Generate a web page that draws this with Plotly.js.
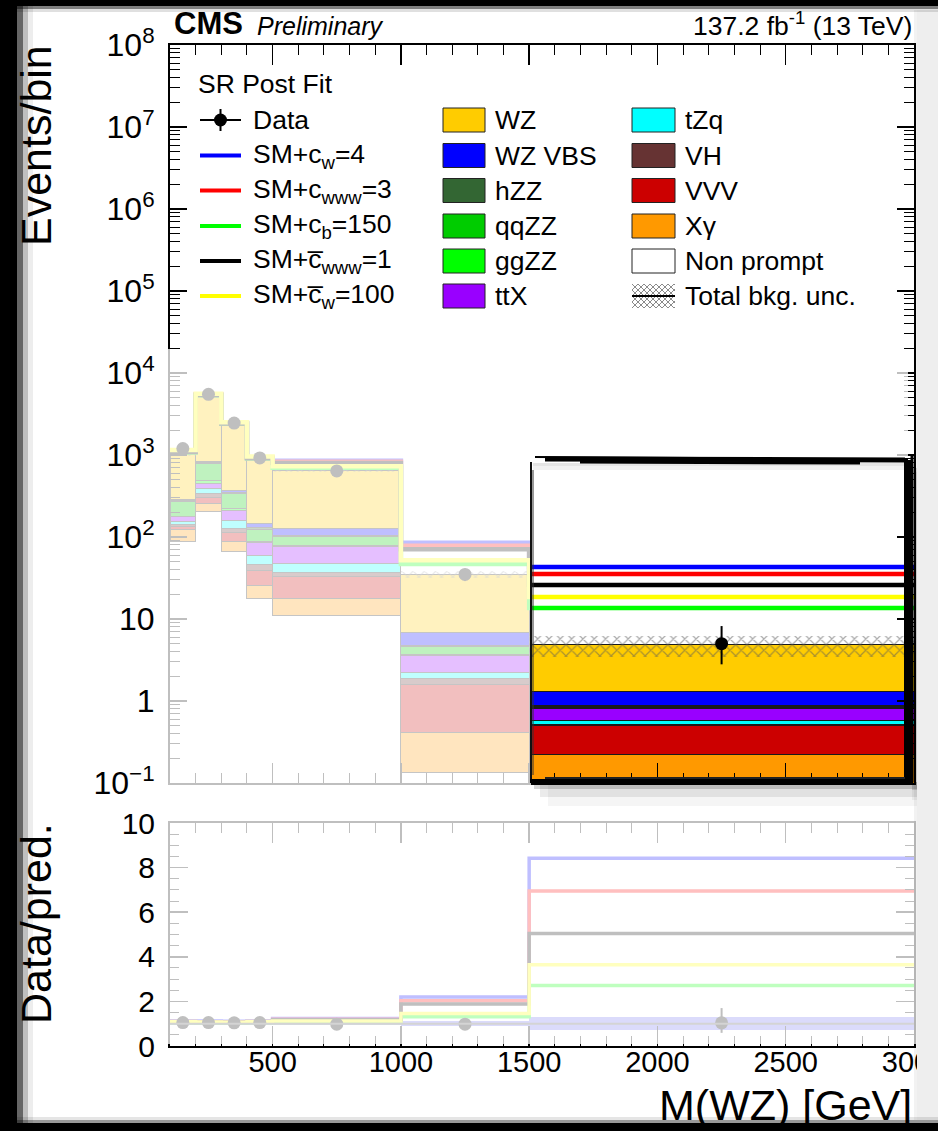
<!DOCTYPE html>
<html><head><meta charset="utf-8">
<script src="https://cdn.plot.ly/plotly-3.0.1.min.js"></script>
<style>html,body{margin:0;padding:0;background:#fff}#chart{width:938px;height:1131px}</style>
</head><body><div id="chart"></div>
<script>
// ---------------- data ----------------
const binEdges   = [100, 200, 300, 400, 500, 1000, 1500, 3000];
const binCenters = [150, 250, 350, 450, 750, 1250, 2250];
const binWidths  = [100, 100, 100, 100, 500, 500, 1500];

// stacked backgrounds (bottom -> top)
const nonPrompt = [88, 204, 67, 18, 10.9, 0.134, 0];
const xGamma    = [34, 53, 20, 7.5, 6.8, 0.28, 0.224];
const vvv       = [12, 43, 25, 13.5, 15.7, 1.19, 0.28];
const vh        = [9, 35, 16, 7, 3.1, 0.29, 0.01];
const tzq       = [13, 58, 32, 14, 11, 0.32, 0.06];
const ttx       = [20, 58, 48, 26, 28.3, 1.33, 0.235];
const ggzz      = [4, 31, 17, 3, 3, 0.1, 0.02];
const qqzz      = [90, 301, 110, 35, 22, 1.0, 0.04];
const hzz       = [5, 17, 10, 5, 3, 0.05, 0.005];
const wzvbs     = [12, 26, 29, 18, 23, 2.1, 0.43];
const wz        = [743, 4374, 1976, 733, 523, 28.3, 3.52];
const bkgUnc    = [60, 200, 100, 40, 30, 3.5, 1.4];

// data
const dataY       = [1200, 5500, 2450, 920, 640, 35, 5];
const dataErrUp   = [35, 74, 50, 30, 25, 6, 3.2];
const dataErrDown = [35, 74, 50, 30, 25, 6, 2.2];

// EFT signals (SM + operator)
const sigCw4     = [1100, 5500, 2450, 935, 850, 85, 43];
const sigCwww3   = [1090, 5450, 2430, 925, 830, 78, 35.4];
const sigCb150   = [1075, 5350, 2400, 905, 700, 47, 13.6];
const sigCbwww1  = [1085, 5400, 2420, 915, 800, 71, 26];
const sigCbw100  = [1150, 5600, 2500, 960, 730, 52, 18.5];

// ratio panel
const ratioCw4    = [1.13, 1.12, 1.11, 1.13, 1.23, 2.2, 8.42];
const ratioCwww3  = [1.1, 1.09, 1.08, 1.1, 1.2, 2.03, 6.95];
const ratioCb150  = [1.04, 1.03, 1.03, 1.04, 1.05, 1.31, 2.71];
const ratioCbwww1 = [1.08, 1.07, 1.06, 1.08, 1.18, 1.88, 5.04];
const ratioCbw100 = [1.1, 1.08, 1.07, 1.1, 1.12, 1.46, 3.64];
const ratioData        = [1.05, 1.05, 1.04, 1.05, 0.98, 0.98, 1.04];
const ratioDataErrUp   = [0.04, 0.02, 0.03, 0.04, 0.05, 0.18, 0.66];
const ratioDataErrDown = [0.04, 0.02, 0.03, 0.04, 0.05, 0.18, 0.45];
const ratioUnc         = [0.06, 0.04, 0.04, 0.05, 0.05, 0.1, 0.29];

// labels
const stackNames = ['Non prompt', 'X\u03b3', 'VVV', 'VH', 'tZq', 'ttX', 'ggZZ', 'qqZZ', 'hZZ', 'WZ VBS', 'WZ'];
const sigNames = ['SM+c<sub>w</sub>=4', 'SM+c<sub>www</sub>=3', 'SM+c<sub>b</sub>=150', 'SM+c\u0305<sub>www</sub>=1', 'SM+c\u0305<sub>w</sub>=100'];
const legendCol2 = ['WZ', 'WZ VBS', 'hZZ', 'qqZZ', 'ggZZ', 'ttX'];
const legendCol3 = ['tZq', 'VH', 'VVV', 'X\u03b3', 'Non prompt', 'Total bkg. unc.'];
const mainTickVals = [0.1, 1, 10, 100, 1e3, 1e4, 1e5, 1e6, 1e7, 1e8];
const mainTickText = ['10<sup>\u22121</sup>', '1', '10', '10<sup>2</sup>', '10<sup>3</sup>', '10<sup>4</sup>', '10<sup>5</sup>', '10<sup>6</sup>', '10<sup>7</sup>', '10<sup>8</sup>'];

// ---------------- styles ----------------
const FONT = 'Liberation Sans, Arial, Helvetica, sans-serif';
const stackColors = {'Non prompt':'#ffffff','X\u03b3':'#ff9900','VVV':'#cc0000','VH':'#663333','tZq':'#00ffff','ttX':'#9900ff','ggZZ':'#00ff00','qqZZ':'#00cc00','hZZ':'#336633','WZ VBS':'#0000ff','WZ':'#ffcc00'};
const sigColors = ['#0000ff', '#ff0000', '#00ff00', '#000000', '#ffff00'];

const W = 938, H = 1131, L = 170, R = 914, T = 45, B = 1046;
const px = x => (x - L) / (R - L);
const py = y => (B - y) / (B - T);

// ---------------- traces ----------------
const stackValues = [nonPrompt, xGamma, vvv, vh, tzq, ttx, ggzz, qqzz, hzz, wzvbs, wz];
const traces = [];
stackValues.forEach((vals, i) => {
  const isNP = i === 0;
  traces.push({type:'bar', x:binCenters, y:vals, width:binWidths, xaxis:'x', yaxis:'y',
    marker:{color:stackColors[stackNames[i]], line:{color:isNP ? 'rgba(0,0,0,0)' : '#1a1a1a', width:isNP ? 0 : 1}},
    hoverinfo:'skip', showlegend:false, name:stackNames[i]});
});
const totalBkg = binCenters.map((_, j) => stackValues.reduce((s, a) => s + a[j], 0));
traces.push({type:'bar', x:binCenters, y:bkgUnc.map(u => 2*u), base:totalBkg.map((t, j) => t - bkgUnc[j]),
  width:binWidths, xaxis:'x', yaxis:'y',
  marker:{color:'rgba(0,0,0,0)', line:{width:0}, pattern:{shape:'x', fgcolor:'#5a5a5a', bgcolor:'rgba(0,0,0,0)', size:8, solidity:0.3, fillmode:'overlay'}},
  hoverinfo:'skip', showlegend:false});

const stepY = v => v.concat([v[v.length - 1]]);
const sigSeries = [sigCw4, sigCwww3, sigCb150, sigCbwww1, sigCbw100];
sigSeries.forEach((v, i) => traces.push({type:'scatter', mode:'lines', x:binEdges, y:stepY(v),
  line:{shape:'hv', color:sigColors[i], width:4.5}, xaxis:'x', yaxis:'y', hoverinfo:'skip', showlegend:false}));

traces.push({type:'scatter', mode:'markers', x:binCenters, y:dataY, xaxis:'x', yaxis:'y',
  marker:{color:'#000', size:13},
  error_y:{type:'data', symmetric:false, array:dataErrUp, arrayminus:dataErrDown, color:'#000', thickness:2, width:0},
  hoverinfo:'skip', showlegend:false});

// ratio
traces.push({type:'bar', x:binCenters, y:ratioUnc.map(u => 2*u), base:ratioUnc.map(u => 1 - u), width:binWidths,
  xaxis:'x2', yaxis:'y2', marker:{color:'#7070ee', line:{width:0}}, hoverinfo:'skip', showlegend:false});
const ratioSeries = [ratioCw4, ratioCwww3, ratioCb150, ratioCbwww1, ratioCbw100];
ratioSeries.forEach((v, i) => traces.push({type:'scatter', mode:'lines', x:binEdges, y:stepY(v),
  line:{shape:'hv', color:sigColors[i], width:3.5}, xaxis:'x2', yaxis:'y2', hoverinfo:'skip', showlegend:false}));
traces.push({type:'scatter', mode:'markers', x:binCenters, y:ratioData, xaxis:'x2', yaxis:'y2',
  marker:{color:'#000', size:13},
  error_y:{type:'data', symmetric:false, array:ratioDataErrUp, arrayminus:ratioDataErrDown, color:'#000', thickness:2, width:0},
  hoverinfo:'skip', showlegend:false});

// ---------------- decorations ----------------
const shapes = [];
const annotations = [];
function rect(x0, y0, x1, y1, fill, opts) {
  shapes.push(Object.assign({type:'rect', xref:'paper', yref:'paper', x0:px(x0), x1:px(x1), y0:py(y1), y1:py(y0),
    fillcolor:fill, line:{width:0}, layer:'above'}, opts || {}));
}
function seg(x0, y0, x1, y1, color, width) {
  shapes.push({type:'line', xref:'paper', yref:'paper', x0:px(x0), y0:py(y0), x1:px(x1), y1:py(y1),
    line:{color:color, width:width}, layer:'above'});
}
function addText(text, x, y, size, opts) {
  annotations.push(Object.assign({text:text, x:px(x), y:py(y), xref:'paper', yref:'paper', showarrow:false,
    xanchor:'left', yanchor:'middle', font:{family:FONT, size:size, color:'#000'}}, opts || {}));
}

// reference line in ratio
shapes.push({type:'line', xref:'x2', yref:'y2', x0:binEdges[0], x1:binEdges[binEdges.length-1], y0:1, y1:1,
  line:{color:'#555', width:2}, layer:'above'});

// fade overlay (everything outside the highlighted bin)
const FADE = 'rgba(255,255,255,0.75)';
rect(165, 349, 531, 790, FADE);
rect(531, 349, 908, 457, FADE);
rect(165, 812, 920, 1044, FADE);

// shadow of the highlight box
rect(534, 782, 918, 789, 'rgba(0,0,0,0.16)');
rect(540, 782, 921, 797, 'rgba(0,0,0,0.08)');
rect(548, 782, 924, 806, 'rgba(0,0,0,0.04)');
rect(912, 468, 918, 790, 'rgba(0,0,0,0.12)');
rect(912, 472, 923, 800, 'rgba(0,0,0,0.05)');
rect(533, 463, 906, 470, 'rgba(0,0,0,0.05)');
rect(533, 463, 906, 466, 'rgba(0,0,0,0.05)');

// brush border of the highlight box
seg(545, 459, 905, 460, '#000', 5);
seg(580, 462, 860, 463, '#000', 3);
seg(535, 457, 700, 458, '#000', 2);
seg(531, 462, 531, 782, '#111', 2);
seg(533, 470, 533, 775, '#333', 1);
seg(906, 458, 906, 783, '#000', 4);
seg(909, 460, 909, 782, '#000', 4);
seg(912, 456, 912, 782, '#000', 3);
seg(530, 781, 913, 781, '#000', 4);
seg(545, 778, 905, 778, '#222', 2);

// header
addText('<b>CMS</b>', 172, 24, 31);
addText('<i>Preliminary</i>', 255, 26, 25);
addText('137.2 fb<sup>-1</sup> (13 TeV)', 914, 24, 26.5, {xanchor:'right'});

// legend
addText('SR Post Fit', 196, 84, 26.5);
const rowY = [120, 155.5, 190.5, 226, 261, 296];
seg(200, rowY[0], 241, rowY[0], '#000', 2);
seg(220.5, rowY[0] - 11, 220.5, rowY[0] + 11, '#000', 2);
shapes.push({type:'circle', xref:'paper', yref:'paper', x0:px(214), x1:px(227), y0:py(rowY[0] + 6.5), y1:py(rowY[0] - 6.5),
  fillcolor:'#000', line:{width:0}, layer:'above'});
addText('Data', 251, rowY[0], 26.5);
sigNames.forEach((n, i) => {
  seg(200, rowY[i + 1], 241, rowY[i + 1], sigColors[i], 4);
  addText(n, 251, rowY[i + 1], 26.5);
});
legendCol2.forEach((n, i) => {
  rect(443, rowY[i] - 12, 485, rowY[i] + 12, stackColors[n], {line:{color:'#222', width:1}});
  addText(n, 493, rowY[i], 26.5);
});
legendCol3.forEach((n, i) => {
  if (stackColors[n]) {
    rect(632, rowY[i] - 12, 675, rowY[i] + 12, stackColors[n], {line:{color:'#222', width:1}});
  }
  addText(n, 683, rowY[i], 26.5);
});
// hatch icon for total bkg. unc.
(function () {
  const x0 = 632, x1 = 675, y0 = rowY[5] - 12, y1 = rowY[5] + 12, s = 6;
  let p = '';
  for (let c = x0 - y1; c <= x1 - y0; c += s) {
    const xs = Math.max(x0, y0 + c), xe = Math.min(x1, y1 + c);
    if (xs < xe) p += 'M' + px(xs) + ',' + py(xs - c) + 'L' + px(xe) + ',' + py(xe - c);
  }
  for (let c = x0 + y0; c <= x1 + y1; c += s) {
    const xs = Math.max(x0, c - y1), xe = Math.min(x1, c - y0);
    if (xs < xe) p += 'M' + px(xs) + ',' + py(c - xs) + 'L' + px(xe) + ',' + py(c - xe);
  }
  shapes.push({type:'path', xref:'paper', yref:'paper', path:p, line:{color:'#8a8a8a', width:1}, layer:'above'});
  seg(x0, rowY[5], x1, rowY[5], '#000', 2);
})();

// axis titles
addText('Events/bin', 36, 146, 43, {xanchor:'center', textangle:-90});
addText('Data/pred.', 36, 924, 43, {xanchor:'center', textangle:-90});
addText('M(WZ) [GeV]', 914, 1105, 43, {xanchor:'right'});

// vignette frame
rect(917, 10, 938, 1120, '#eeeeee');
rect(914, 10, 917, 1120, 'rgba(0,0,0,0.05)');
rect(0, 0, 17, H, '#000');
rect(17, 0, 23, H, 'rgba(0,0,0,0.6)');
rect(23, 0, 28, H, 'rgba(0,0,0,0.25)');
rect(28, 0, 33, H, 'rgba(0,0,0,0.07)');
rect(0, 0, W, 6, '#000');
rect(0, 6, W, 9, 'rgba(0,0,0,0.5)');
rect(0, 9, W, 12, 'rgba(0,0,0,0.12)');
rect(0, 1123, W, H, '#000');
rect(0, 1120, W, 1123, 'rgba(0,0,0,0.4)');
rect(0, 1117, W, 1120, 'rgba(0,0,0,0.1)');

// ---------------- axes ----------------
const minorLog = [];
for (let e = -1; e < 8; e++) for (let d = 2; d <= 9; d++) minorLog.push(d * Math.pow(10, e));
const axisCommon = {showgrid:false, zeroline:false, showline:true, linecolor:'#000', linewidth:2,
  ticks:'inside', tickcolor:'#000', tickwidth:1.5, mirror:'allticks'};

const layout = {
  width:W, height:H, margin:{l:L, r:W - R, t:T, b:H - B, pad:0},
  paper_bgcolor:'#fff', plot_bgcolor:'#fff', barmode:'stack', bargap:0, showlegend:false,
  font:{family:FONT, color:'#000'},
  xaxis:Object.assign({}, axisCommon, {domain:[0, 1], anchor:'y', range:[binEdges[0], binEdges[binEdges.length-1]],
    tickmode:'linear', tick0:0, dtick:500, ticklen:20, showticklabels:false,
    minor:{ticks:'inside', ticklen:10, tickcolor:'#000', tickwidth:1, dtick:100, tick0:0, showgrid:false}}),
  yaxis:Object.assign({}, axisCommon, {domain:[(B - 783) / (B - T), 1], anchor:'x', type:'log', range:[-1, 8],
    tickmode:'array', tickvals:mainTickVals, ticktext:mainTickText, ticklen:17,
    tickfont:{family:FONT, size:32, color:'#000'}, ticklabelstandoff:7,
    minor:{tickmode:'array', tickvals:minorLog, ticks:'inside', ticklen:10, tickcolor:'#000', tickwidth:1, showgrid:false}}),
  xaxis2:Object.assign({}, axisCommon, {domain:[0, 1], anchor:'y2', range:[binEdges[0], binEdges[binEdges.length-1]],
    tickmode:'linear', tick0:0, dtick:500, ticklen:20, showticklabels:true, ticklabeloverflow:'allow',
    tickfont:{family:FONT, size:29, color:'#000'}, ticklabelstandoff:-11,
    minor:{ticks:'inside', ticklen:10, tickcolor:'#000', tickwidth:1, dtick:100, tick0:0, showgrid:false}}),
  yaxis2:Object.assign({}, axisCommon, {domain:[0, (B - 823) / (B - T)], anchor:'x2', range:[0, 10],
    tickmode:'linear', tick0:0, dtick:2, ticklen:18,
    tickfont:{family:FONT, size:30, color:'#000'}, ticklabelstandoff:7,
    minor:{ticks:'inside', ticklen:9, tickcolor:'#000', tickwidth:1, dtick:0.5, tick0:0, showgrid:false}}),
  shapes:shapes, annotations:annotations
};

Plotly.newPlot('chart', traces, layout, {staticPlot:true, displayModeBar:false});
</script>
</body></html>
